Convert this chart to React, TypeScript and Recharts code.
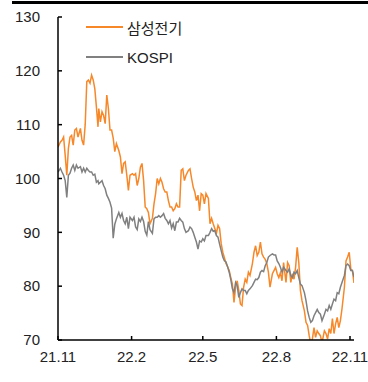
import React from 'react';
import { LineChart, Line, XAxis, YAxis } from 'recharts';

const FONT = "'Liberation Sans', Arial, 'Noto Sans CJK KR', sans-serif";
const BASE = Date.parse('2021-11-01');

// calendar days since 2021-11-01
const days = [
  0, 3, 5, 7, 9, 11, 13, 15, 17, 19, 21, 23, 25, 28, 30, 32, 34, 36, 38, 40, 42, 44, 46, 48, 50, 51, 53, 55, 57, 59, 61, 63, 65, 67, 69, 71, 73,
  76, 78, 80, 82, 84, 86, 88, 90, 93, 95, 97, 99, 101, 103, 105, 107, 109, 111, 113, 115, 118, 120, 122, 124, 126, 128, 130, 132, 134, 136, 138, 140, 142, 144,
  146, 148, 150, 152, 154, 156, 158, 160, 163, 165, 167, 169, 171, 173, 175, 177, 179, 181, 183, 185, 188, 190, 192, 194, 196, 198, 200, 202, 204, 206, 208, 210, 212, 214,
  216, 218, 220, 222, 224, 226, 228, 230, 232, 234, 236, 238, 240, 243, 245, 247, 249, 251, 253, 255, 257, 259, 261, 263, 265, 268, 270, 272, 274, 276, 278, 280, 282,
  285, 287, 289, 291, 293, 295, 297, 299, 301, 303, 305, 308, 310, 312, 314, 316, 318, 320, 322, 324, 326, 328, 330, 333, 335, 337, 339, 341, 343, 345, 347, 349, 351, 353, 355, 358, 360, 362, 364, 366, 368, 370,
];

const semco = [
  105.8, 106.8, 107.1, 107.7, 104.3, 100.6, 105.6, 107.7, 108, 106.2, 109, 109.3, 107.7, 109.3, 107.1, 106.2, 110, 118, 118.3, 117.7, 119.2, 118.3, 116.7, 113.3, 109.6, 113, 110.5, 112.4, 111.7, 110.2, 115.5, 113, 109, 109, 107.5, 105, 106.5,
  105.2, 104, 100.9, 102.8, 103.1, 100.6, 97.8, 100.6, 100.9, 100.6, 100.9, 98.7, 100, 102.1, 102.8, 99.6, 94.7, 94.4, 93.7, 91.6, 92.6, 95.3, 97.2, 100, 99, 100, 99.3, 98.1, 97.5, 97.5, 95.9, 94.7, 94.7, 94,
  94.4, 95.3, 94.7, 94.7, 101.5, 101.8, 99.6, 100.6, 101.5, 101.8, 100, 98.4, 97.5, 95.9, 96.9, 94, 97.2, 96.9, 95.3, 97.2, 96.3, 91.6, 92.6, 91.6, 90.7, 89.8, 91.3, 90.7, 87.9, 86.3, 85.3, 84.2, 83.6, 82.9,
  81.6, 80.4, 77, 79.8, 81, 79.2, 76.7, 76.4, 79.8, 81.3, 80.7, 82.6, 82, 84.2, 86.3, 87.5, 85.7, 86.3, 88.2, 86, 85.4, 85, 84.2, 82.6, 79.8, 82.3, 82.9, 83.5, 82.3, 81.6, 82.5, 81, 84.4,
  80.7, 84.4, 83.8, 80.7, 82.3, 81.3, 83.5, 87.2, 84.4, 79.2, 77.3, 75.4, 73.3, 72.7, 70.8, 69.3, 70.2, 72.3, 70.5, 71.7, 71.2, 70.8, 69.5, 71.7, 71.2, 70.2, 72.1, 71.2, 74, 71.2, 73, 74.2, 72.3, 73.6, 75.8, 79.8, 84.7, 85.4, 86.3, 83.2, 82.9, 80.6,
];

const kospi = [
  101.2, 101.9, 101.2, 100.6, 99.6, 96.5, 100.6, 101, 101.9, 102.5, 101.5, 102.5, 101.9, 102.2, 101.2, 101.9, 101.2, 101.9, 101.5, 101.2, 101.2, 100.6, 100.8, 99.3, 99.6, 99, 99.3, 99.6, 98.7, 98.1, 96.9, 96.3, 95.6, 94.5, 88.9, 91.5, 92.5,
  93.7, 92.8, 93.5, 92.2, 91.6, 92.8, 90.7, 92.8, 92.2, 92.8, 91, 90.5, 92.5, 92, 92.8, 92, 90.2, 89.5, 92, 90.5, 89.8, 92.5, 92.8, 92.8, 93.1, 92.8, 93.1, 93.5, 92.6, 92.2, 91.6, 92.2, 90.8, 91.6,
  90.3, 91.9, 91.9, 92.6, 92.2, 91.9, 90.7, 90, 90.3, 91, 90.7, 90, 89.1, 88.2, 86.9, 88.4, 88.2, 88.8, 88.4, 89.4, 89.4, 90, 90.7, 90.2, 90.3, 89.4, 89.1, 87.8, 86.6, 85.4, 84.7, 84.5, 83.6, 82.6,
  81.2, 79.5, 78.8, 80.7, 80.1, 77.9, 78.8, 79.5, 79.2, 79.2, 78.6, 79.2, 79.5, 80.1, 80.7, 81.3, 81.2, 81.6, 82.6, 82.9, 82.7, 83.8, 84.4, 85.4, 85.7, 86, 85.8, 85.8, 84.7, 84.2, 83.5, 82.6, 83.5,
  82.9, 82.6, 83.2, 82, 81.6, 82.6, 82.3, 82.9, 81.6, 80.4, 80.1, 78.8, 77.3, 75.4, 74.2, 73.3, 73.6, 74.5, 75.1, 75.7, 75.1, 74.8, 73.6, 74.8, 75.7, 75.4, 76.4, 75.7, 76.7, 77.6, 77.3, 78.8, 78.6, 79.8, 80.7, 82, 83.8, 84.1, 83.8, 82.9, 82.9, 81.7,
];

const tickDates = ['2021-11-01', '2022-02-01', '2022-05-01', '2022-08-01', '2022-11-01'];
const tickLabels = ['21.11', '22.2', '22.5', '22.8', '22.11'];
const yTicks = [70, 80, 90, 100, 110, 120, 130];

const series = [
  { key: 'semco', name: '삼성전기', color: '#F7882A' },
  { key: 'kospi', name: 'KOSPI', color: '#808080' },
];

const data = days.map((d, i) => ({ day: d, semco: semco[i], kospi: kospi[i] }));
const xTicks = tickDates.map((s) => (Date.parse(s) - BASE) / 86400000);

function LegendBox() {
  return (
    <div style={{ position: 'absolute', left: 86, top: 12, fontFamily: FONT, fontSize: 15, color: '#222' }}>
      {series.map((s) => (
        <div key={s.key} style={{ display: 'flex', alignItems: 'center', height: 30 }}>
          <span style={{ width: 37, height: 2, background: s.color, marginRight: 4 }} />
          <span>{s.name}</span>
        </div>
      ))}
    </div>
  );
}

export default function App() {
  const tickStyle = { fontSize: 15, fill: '#222', fontFamily: FONT };
  return (
    <div style={{ position: 'absolute', left: 0, top: 0, width: 368, height: 382, background: '#fff' }}>
      <div style={{ position: 'absolute', left: 12, top: 1, width: 356, height: 3, background: '#000' }} />
      <LineChart width={368} height={382} data={data} margin={{ top: 17, right: 14, bottom: 12, left: 0 }}>
        <XAxis
          dataKey="day"
          type="number"
          domain={[0, 370]}
          ticks={xTicks}
          tickFormatter={(v: number) => tickLabels[xTicks.indexOf(v)] ?? ''}
          height={30}
          tickSize={-4}
          tickMargin={15}
          tick={tickStyle}
          stroke="#000"
          strokeWidth={1.5}
          allowDataOverflow
        />
        <YAxis
          domain={[70, 130]}
          ticks={yTicks}
          width={58}
          tickSize={-4}
          tickMargin={22}
          tick={tickStyle}
          stroke="#000"
          strokeWidth={1.5}
          allowDataOverflow
        />
        {series.map((s) => (
          <Line
            key={s.key}
            dataKey={s.key}
            name={s.name}
            type="linear"
            stroke={s.color}
            strokeWidth={1.5}
            dot={false}
            isAnimationActive={false}
          />
        ))}
      </LineChart>
      <LegendBox />
    </div>
  );
}
